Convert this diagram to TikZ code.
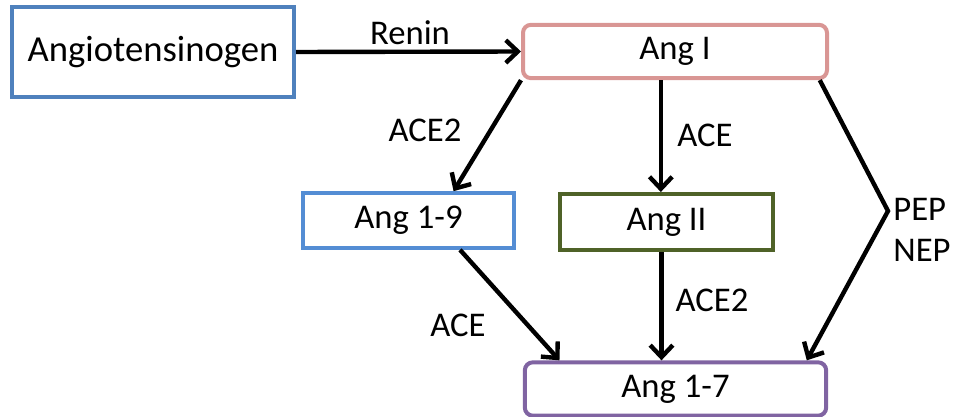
\documentclass[tikz,border=0pt]{standalone}
\usepackage{fontspec}
\setmainfont{Carlito}
\usetikzlibrary{arrows.meta,calc,positioning}
\definecolor{boxblue}{RGB}{79,129,189}
\definecolor{lightblue}{RGB}{84,141,212}
\definecolor{boxpink}{RGB}{217,150,148}
\definecolor{boxolive}{RGB}{79,98,40}
\definecolor{boxpurple}{RGB}{128,100,162}
\tikzset{
  protein/.style={draw,line width=3pt,fill=white,inner sep=0pt,font=\fontsize{26}{31}\selectfont},
  enzyme/.style={font=\fontsize{26}{31}\selectfont,inner sep=0pt},
  conv/.style={line width=3.3pt,-{Straight Barb[length=9pt,width=17pt,line width=3.3pt]}}
}
\begin{document}
\begin{tikzpicture}[x=0.75pt,y=-0.75pt]
                      \useasboundingbox (0,0) rectangle (964,417);
                      % the boxes
                      \node[protein,draw=boxblue,font=\fontsize{27.5}{33}\selectfont,minimum width=211.5pt,minimum height=67.5pt] (agt) at (153,52) {Angiotensinogen};
                      \node[protein,draw=boxpink,rounded corners=6pt,minimum width=228pt,minimum height=40pt] (angI) at (675,51.5) {Ang I};
                      \node[protein,draw=lightblue,minimum width=158pt,minimum height=41pt] (ang19) at (408.5,220.5) {Ang 1-9};
                      \node[protein,draw=boxolive,minimum width=160pt,minimum height=42pt] (angII) at (666.5,222) {Ang II};
                      \node[protein,draw=boxpurple,rounded corners=6pt,minimum width=226pt,minimum height=40pt] (ang17) at (675.5,389) {Ang 1-7};
                      % the bend of the PEP/NEP path
                      \coordinate (bend) at (888,211);
                      % the conversions
                      \draw[conv] (agt.east) -- (angI.west);
                      \draw[conv] (angI.south west) -- ($(ang19.north west)!0.71!(ang19.north east)$);
                      \draw[conv] ($(angI.south west)!0.454!(angI.south east)$) coordinate (aceI) -- (aceI |- angII.north);
                      \draw[conv] ($(angI.south west)!0.97!(angI.south east)$) -- (bend) -- ($(ang17.north west)!0.93!(ang17.north east)$);
                      \draw[conv] ($(ang19.south west)!0.74!(ang19.south east)$) -- ($(ang17.north west)!0.12!(ang17.north east)$);
                      \draw[conv] ($(angII.south west)!0.477!(angII.south east)$) coordinate (aceII) -- (aceII |- ang17.north);
                      % label the enzymes
                      \node[enzyme] (renin) at (410,33) {Renin};
                      \node[enzyme] (ace2a) at (425,130) {ACE2};
                      \node[enzyme] (acea) at (705,135) {ACE};
                      \node[enzyme,align=left] (pepnep) at (922,230) {PEP\\NEP};
                      \node[enzyme] (aceb) at (458,325) {ACE};
                      \node[enzyme] (ace2b) at (712,300) {ACE2};
                  \end{tikzpicture}
\end{document}
